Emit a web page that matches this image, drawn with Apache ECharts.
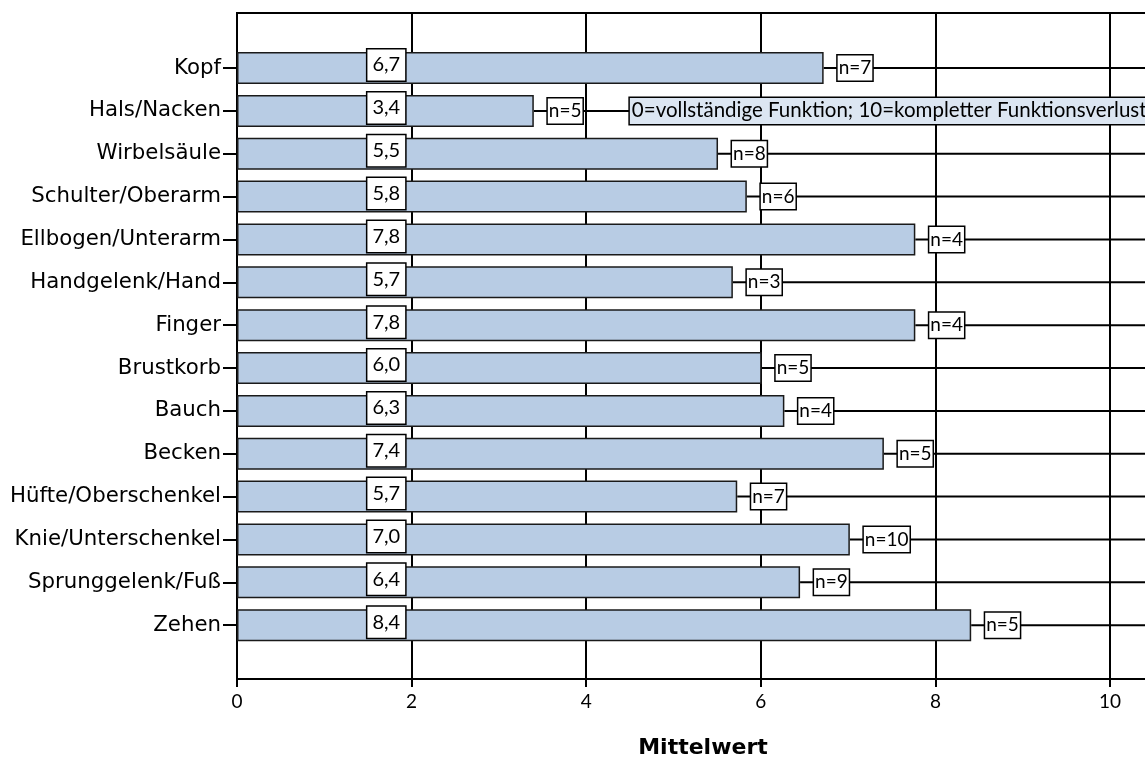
<!DOCTYPE html>
<html><head><meta charset="utf-8">
<script src="https://cdn.jsdelivr.net/npm/echarts@6/dist/echarts.min.js"></script>
<style>html,body{margin:0;padding:0;background:#fff}#c{width:1145px;height:758px}</style>
</head><body><div id="c"></div>
<script>
const categories = ['Kopf','Hals/Nacken','Wirbelsäule','Schulter/Oberarm','Ellbogen/Unterarm','Handgelenk/Hand','Finger','Brustkorb','Bauch','Becken','Hüfte/Oberschenkel','Knie/Unterschenkel','Sprunggelenk/Fuß','Zehen'];
const means = [6.72, 3.40, 5.51, 5.84, 7.77, 5.68, 7.77, 6.01, 6.27, 7.41, 5.73, 7.02, 6.45, 8.41];
const meanLabels = ['6,7','3,4','5,5','5,8','7,8','5,7','7,8','6,0','6,3','7,4','5,7','7,0','6,4','8,4'];
const nLabels = ['n=7','n=5','n=8','n=6','n=4','n=3','n=4','n=5','n=4','n=5','n=7','n=10','n=9','n=5'];
const xTicks = [0, 2, 4, 6, 8, 10];
const axisTitle = 'Mittelwert';
const noteText = '0=vollständige Funktion; 10=kompletter Funktionsverlust';
const noteCategory = 'Hals/Nacken';

const X_MAX = 12;
const VALUE_BOX_X = 1.71;
const NOTE_X = 4.5;

const chart = echarts.init(document.getElementById('c'));
const boxFont = 'Lato';

chart.setOption({
  animation: false,
  backgroundColor: '#fff',
  title: {
    text: axisTitle, left: 698, top: 732, textAlign: 'center',
    textStyle: { fontFamily: 'DejaVu Sans', fontWeight: 'bold', fontSize: 22, color: '#000' }
  },
  grid: [
    { left: 237, width: 1047.6, top: 13, bottom: 79, show: true, borderColor: '#000', borderWidth: 2,
      containLabel: false, outerBoundsMode: 'none' },
    { left: 237, width: 1047.6, top: 46.6, height: 600, containLabel: false, outerBoundsMode: 'none' }
  ],
  xAxis: [
    { gridIndex: 0, type: 'value', min: 0, max: X_MAX, interval: 2,
      axisLine: { show: true, lineStyle: { color: '#000', width: 2 } },
      axisTick: { show: true, length: 8, lineStyle: { color: '#000', width: 2 } },
      splitLine: { show: true, lineStyle: { color: '#000', width: 2 } },
      axisLabel: { color: '#000', fontFamily: 'Lato', fontSize: 19, margin: 13,
        formatter: v => xTicks.includes(v) ? String(v) : '' } },
    { gridIndex: 1, type: 'value', min: 0, max: X_MAX, show: false }
  ],
  yAxis: [
    { gridIndex: 0, type: 'value', show: false },
    { gridIndex: 1, type: 'category', data: categories, inverse: true,
      axisLine: { show: false },
      axisTick: { show: true, alignWithLabel: true, length: 14, lineStyle: { color: '#000', width: 2 } },
      axisLabel: { color: '#000', fontFamily: 'DejaVu Sans', fontSize: 21.3, margin: 16 } }
  ],
  series: [
    { type: 'custom', xAxisIndex: 1, yAxisIndex: 1, z: 1,
      data: means.map((v, i) => [v, i]),
      renderItem: (params, api) => {
        const p0 = api.coord([api.value(0), api.value(1)]);
        const p1 = api.coord([X_MAX, api.value(1)]);
        return { type: 'line', shape: { x1: p0[0], y1: p0[1], x2: p1[0], y2: p1[1] },
                 style: { stroke: '#000', lineWidth: 2 } };
      } },
    { type: 'bar', xAxisIndex: 1, yAxisIndex: 1, z: 2, barWidth: 32,
      data: means,
      itemStyle: { color: '#b8cce4', borderColor: '#1a1a1a', borderWidth: 1.5 },
      label: { show: true, position: 'right', distance: 14,
        formatter: p => nLabels[p.dataIndex],
        color: '#000', fontFamily: boxFont, fontSize: 19,
        backgroundColor: '#fff', borderColor: '#000', borderWidth: 1.5, padding: [4, 1, 2, 1] } },
    { type: 'scatter', xAxisIndex: 1, yAxisIndex: 1, z: 3, symbolSize: 0,
      itemStyle: { opacity: 1 },
      data: meanLabels.map((t, i) => [VALUE_BOX_X, i]),
      label: { show: true, position: 'inside', offset: [0, -3], opacity: 1,
        formatter: p => meanLabels[p.dataIndex],
        color: '#000', fontFamily: boxFont, fontSize: 20,
        backgroundColor: '#fff', borderColor: '#000', borderWidth: 1.5, padding: [6, 5, 5, 5] } },
    { type: 'scatter', xAxisIndex: 1, yAxisIndex: 1, z: 3, symbolSize: 0,
      itemStyle: { opacity: 1 },
      data: [[NOTE_X, categories.indexOf(noteCategory)]],
      label: { show: true, position: 'right', distance: 0, opacity: 1,
        formatter: () => noteText,
        color: '#000', fontFamily: boxFont, fontSize: 20.5,
        backgroundColor: '#dce6f2', borderColor: '#000', borderWidth: 1.5, padding: [3, 8, 2, 2] } }
  ]
});
</script></body></html>
